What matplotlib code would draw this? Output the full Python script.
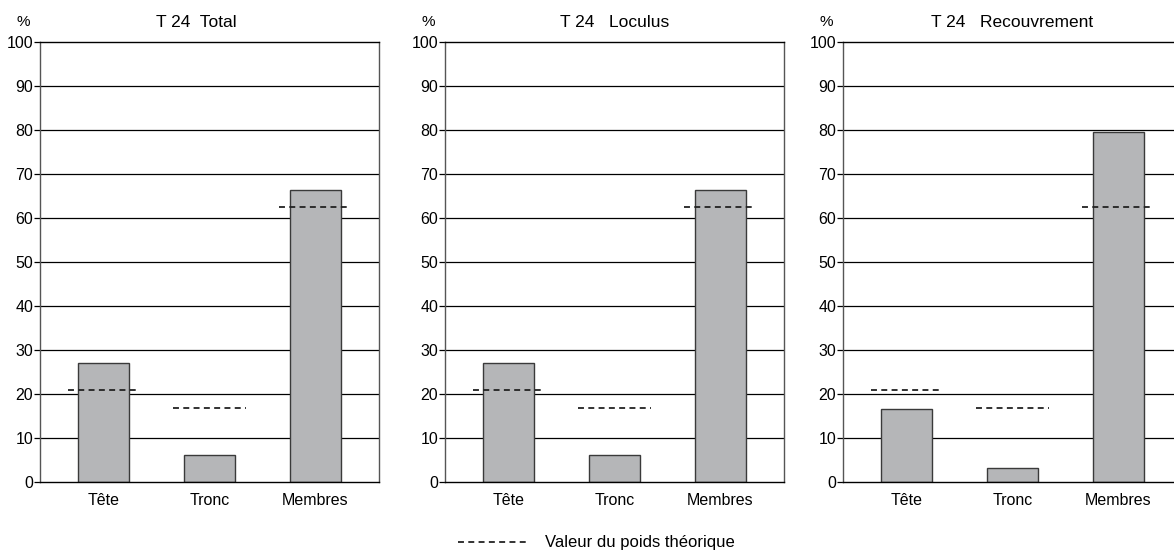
import numpy as np
import matplotlib
matplotlib.use("Agg")
import matplotlib.pyplot as plt

plt.rcParams['font.family'] = ['Liberation Sans', 'DejaVu Sans']

# -----------------------------
# data
# -----------------------------
categories = ["Tête", "Tronc", "Membres"]
titles = ["T 24  Total", "T 24   Loculus", "T 24   Recouvrement"]
total = [27.0, 6.2, 66.4]
loculus = [27.0, 6.2, 66.4]
recouvrement = [16.7, 3.2, 79.5]
theorique = [20.8, 16.8, 62.6]
yticks = [0, 10, 20, 30, 40, 50, 60, 70, 80, 90, 100]

series = [total, loculus, recouvrement]

# -----------------------------
# layout (pixels -> figure fraction)
# -----------------------------
W, H = 1174, 560
fig = plt.figure(figsize=(W / 100, H / 100), dpi=100)
lefts = [40, 445, 843]
ax_w, ax_h = 339, 440
bottom = (H - 482) / H
title_x = [0.46, 0.5, 0.5]
dash = (3.3, 2.4)

x = np.arange(len(categories))
for k, vals in enumerate(series):
    ax = fig.add_axes([lefts[k] / W, bottom, ax_w / W, ax_h / H])
    ax.set_xlim(-0.6, 2.6)
    ax.set_ylim(0, 100)
    ax.set_yticks(yticks)
    ax.set_yticklabels([str(t) for t in yticks], fontsize=11.5)
    for t in yticks[1:-1]:
        ax.axhline(t, color='black', lw=0.9, zorder=1)
    ax.bar(x, vals, width=0.475, color='#b5b6b8', edgecolor='#3a3a3a',
           linewidth=1.0, zorder=2)
    for i, v in enumerate(theorique):
        ax.plot([i - 0.34, i + 0.34], [v, v], color='#222222', lw=1.3,
                dashes=dash, zorder=3)
    ax.set_xticks(x)
    ax.set_xticklabels(categories, fontsize=11.5)
    ax.tick_params(axis='x', length=0, pad=8)
    ax.tick_params(axis='y', length=4, width=0.9, direction='out', pad=1)
    for s in ax.spines.values():
        s.set_color('#555555')
        s.set_linewidth(1.0)
    ax.spines['top'].set_color('black')
    ax.spines['bottom'].set_color('black')
    ax.set_title(titles[k], fontsize=12.5, x=title_x[k], pad=11)
    ax.text(-0.05, 1.045, "%", transform=ax.transAxes, fontsize=11,
            ha='center', va='center')

# legend at bottom
fig.lines.append(plt.Line2D([458 / W, 527 / W], [1 - 542 / H, 1 - 542 / H],
                            transform=fig.transFigure, color='#222222',
                            lw=1.3, dashes=dash))
fig.text(545 / W, 1 - 542 / H, "Valeur du poids théorique", fontsize=12,
         ha='left', va='center')

fig.savefig("out.png", dpi=100)
